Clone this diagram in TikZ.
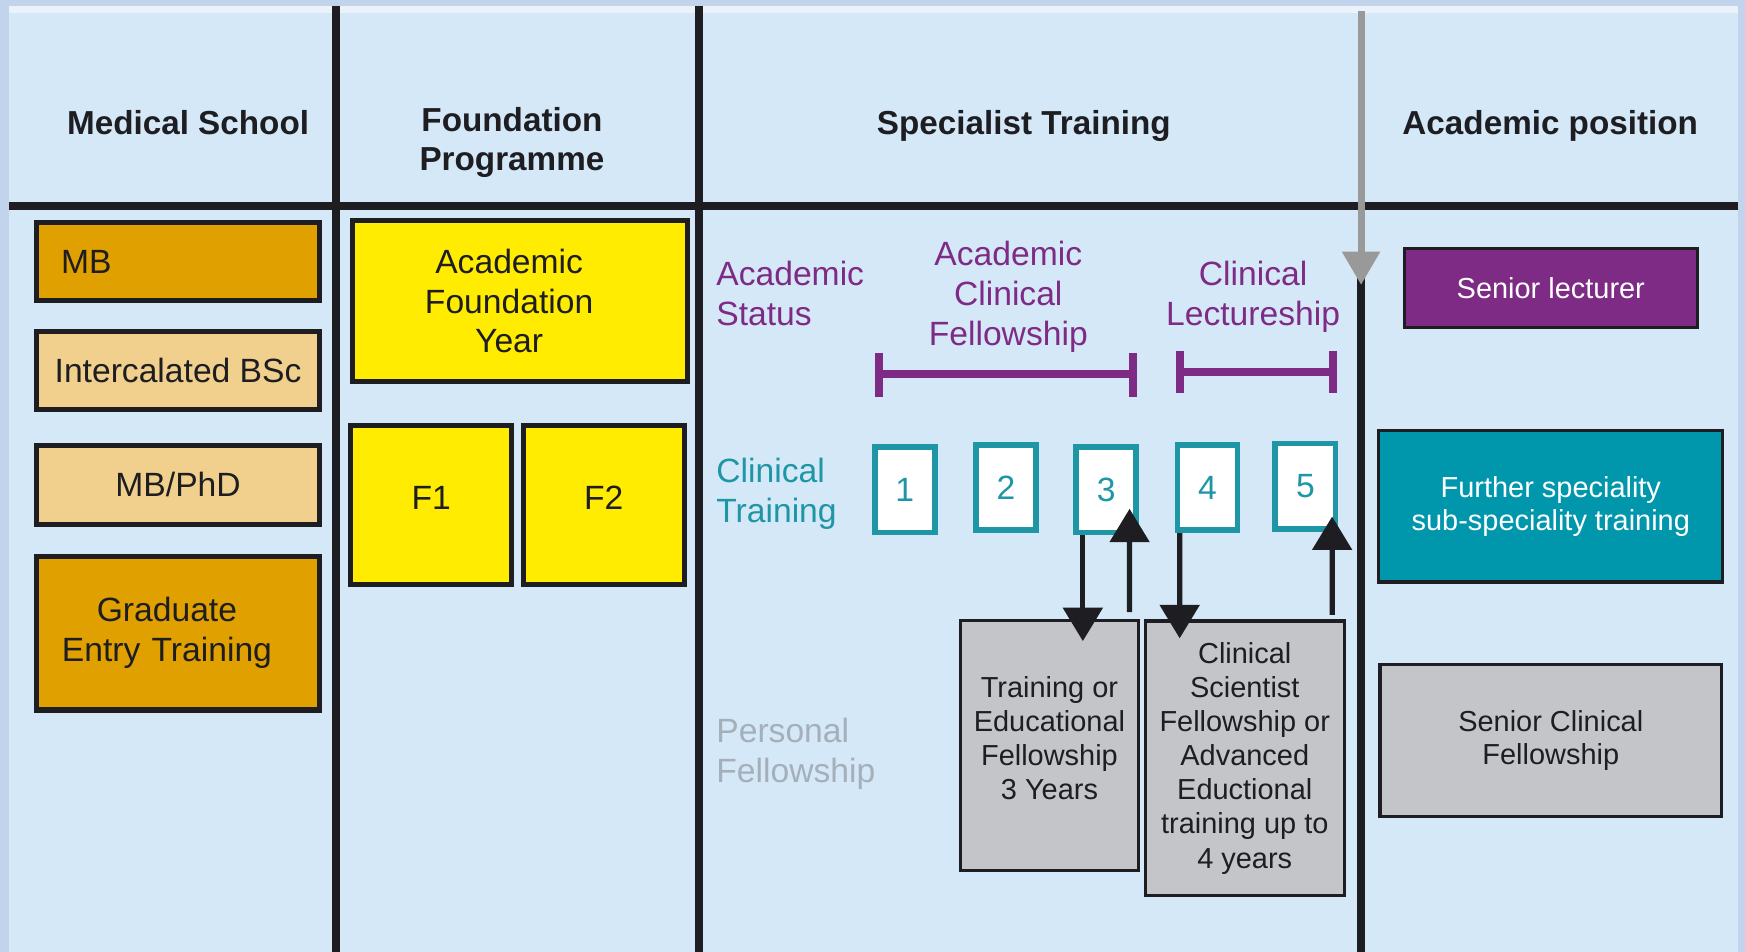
\documentclass[tikz,border=0pt]{standalone}
\usepackage{fontspec}
\setmainfont{Liberation Sans}
\usepackage{xcolor}
\definecolor{panel}{RGB}{212,232,247}
\definecolor{sky}{RGB}{193,212,236}
\definecolor{darkgold}{RGB}{224,160,0}
\definecolor{lightgold}{RGB}{240,208,140}
\definecolor{lemon}{RGB}{255,236,0}
\definecolor{plum}{RGB}{126,43,134}
\definecolor{tealline}{RGB}{30,150,166}
\definecolor{tealfill}{RGB}{0,151,173}
\definecolor{boxgray}{RGB}{196,197,201}
\definecolor{softgray}{RGB}{165,175,186}
\definecolor{ink}{RGB}{30,30,34}
\usepackage{tikz}
\usetikzlibrary{arrows.meta}

\tikzset{
  head/.style={font=\fontsize{8.5}{10.2}\selectfont\bfseries, text=ink, align=center},
  goldbox/.style={draw=ink, line width=1.3pt, minimum width=2.54cm, text=ink, align=center,
    font=\fontsize{8.6}{10.2}\selectfont},
  lemonbox/.style={goldbox, fill=lemon, minimum width=1.45cm},
  rowlabel/.style={anchor=west, align=left, inner sep=0pt, font=\fontsize{8.6}{10.2}\selectfont},
  statuslabel/.style={align=center, text=plum, font=\fontsize{8.6}{10.2}\selectfont},
  yearbox/.style={draw=tealline, fill=white, line width=1.5pt, minimum width=0.54cm,
    minimum height=0.77cm, text=tealline, font=\fontsize{8.6}{10.2}\selectfont},
  fellowbox/.style={draw=ink, fill=boxgray, line width=0.8pt, text=ink, align=center,
    font=\fontsize{7.4}{8.7}\selectfont},
  posbox/.style={draw=ink, line width=0.8pt, align=center, font=\fontsize{7.4}{8.6}\selectfont},
  divider/.style={draw=ink, line width=2pt},
  bracket/.style={draw=plum, line width=2pt},
  arr/.style={draw=ink, line width=1.35pt, -{Triangle[width=0.35cm,length=0.30cm]}},
}

\begin{document}
\begin{tikzpicture}
\useasboundingbox (0,0) rectangle (15.68,-8.55);
\fill[sky] (0,0) rectangle (15.68,-8.55);
\fill[white!70!sky] (0.08,-0.05) rectangle (15.62,-0.12);
\fill[panel] (0.08,-0.12) rectangle (15.62,-8.55);

% column dividers
\draw[divider] (0.08,-1.85) -- (15.62,-1.85);
\draw[divider] (3.02,-0.05) -- (3.02,-8.55);
\draw[divider] (6.28,-0.05) -- (6.28,-8.55);
\draw[divider] (12.23,-2.50) -- (12.23,-8.55);
\draw[draw=gray!80, line width=1.8pt, -{Triangle[width=0.33cm,length=0.30cm]}] (12.23,-0.10) -- (12.23,-2.56);

% headings
\node[head] (medschool) at (1.69,-1.10) {Medical School};
\node[head] (foundprog) at (4.60,-1.28) {Foundation\\Programme};
\node[head] (spectrain) at (9.20,-1.13) {Specialist Training};
\node[head] (acadpos) at (13.93,-1.13) {Academic position};

% medical school
\node[goldbox, fill=darkgold, minimum height=0.70cm, text width=2.10cm, align=left] (mb) at (1.60,-2.35) {MB};
\node[goldbox, fill=lightgold, minimum height=0.70cm] (bsc) at (1.60,-3.33) {Intercalated BSc};
\node[goldbox, fill=lightgold, minimum height=0.71cm] (mbphd) at (1.60,-4.355) {MB/PhD};
\node[goldbox, fill=darkgold, minimum height=1.38cm, text width=2.3cm] (graduate) at (1.60,-5.69) {\hspace*{-0.2cm}Graduate\\\hspace*{-0.2cm}Entry Training};

% foundation programme
\node[lemonbox, minimum width=3.01cm, minimum height=1.45cm, text width=2.6cm] (afy) at (4.675,-2.705) {\hspace*{-0.2cm}Academic\\\hspace*{-0.2cm}Foundation\\\hspace*{-0.2cm}Year};
\node[lemonbox, minimum height=1.43cm, text depth=0.13cm] (fone) at (3.875,-4.535) {F1};
\node[lemonbox, minimum height=1.43cm, text depth=0.13cm] (ftwo) at (5.425,-4.535) {F2};

% specialist training
\node[rowlabel, text=plum] (acstatus) at (6.43,-2.64) {Academic\\Status};
\node[rowlabel, text=tealline] (cltrain) at (6.43,-4.44) {Clinical\\Training};
\node[rowlabel, text=softgray] (perfell) at (6.43,-6.77) {Personal\\Fellowship};
\node[statuslabel] (acf) at (9.06,-2.67) {Academic\\Clinical\\Fellowship};
\node[statuslabel] (clect) at (11.26,-2.67) {Clinical\\Lectureship};

\draw[bracket] (7.90,-3.17) -- (7.90,-3.57);
\draw[bracket] (7.90,-3.36) -- (10.18,-3.36);
\draw[bracket] (10.18,-3.17) -- (10.18,-3.57);
\draw[bracket] (10.60,-3.15) -- (10.60,-3.53);
\draw[bracket] (10.60,-3.34) -- (11.98,-3.34);
\draw[bracket] (11.98,-3.15) -- (11.98,-3.53);

\node[yearbox] (t1) at (8.13,-4.40) {1};
\node[yearbox] (t2) at (9.04,-4.38) {2};
\node[yearbox] (t3) at (9.94,-4.40) {3};
\node[yearbox] (t4) at (10.85,-4.38) {4};
\node[yearbox] (t5) at (11.73,-4.37) {5};

\node[fellowbox, minimum width=1.60cm, minimum height=2.25cm, text depth=0.14cm] (tefell) at (9.43,-6.70) {Training or\\Educational\\Fellowship\\3 Years};
\node[fellowbox, minimum width=1.79cm, minimum height=2.47cm] (csfell) at (11.185,-6.815) {Clinical\\Scientist\\Fellowship or\\Advanced\\Eductional\\training up to\\4 years};

\draw[arr, shorten >=-0.20cm] ([xshift=-0.21cm]t3.south) -- ([xshift=0.30cm]tefell.north);
\draw[arr, shorten <=0.06cm, shorten >=-0.24cm] ([xshift=0.72cm]tefell.north) -- ([xshift=0.21cm]t3.south);
\draw[arr, shorten >=-0.17cm] ([xshift=-0.25cm]t4.south) -- ([xshift=-0.585cm]csfell.north);
\draw[arr, shorten <=0.04cm, shorten >=-0.14cm] ([xshift=0.785cm]csfell.north) -- ([xshift=0.24cm]t5.south);

% academic position
\node[posbox, fill=plum, text=white, minimum width=2.63cm, minimum height=0.71cm] (seniorlect) at (13.935,-2.585) {Senior lecturer};
\node[posbox, fill=tealfill, text=white, minimum width=3.09cm, minimum height=1.36cm] (furtherspec) at (13.935,-4.55) {Further speciality\\sub-speciality training};
\node[posbox, fill=boxgray, text=ink, minimum width=3.07cm, minimum height=1.37cm] (seniorclin) at (13.935,-6.655) {Senior Clinical\\Fellowship};
\end{tikzpicture}
\end{document}
